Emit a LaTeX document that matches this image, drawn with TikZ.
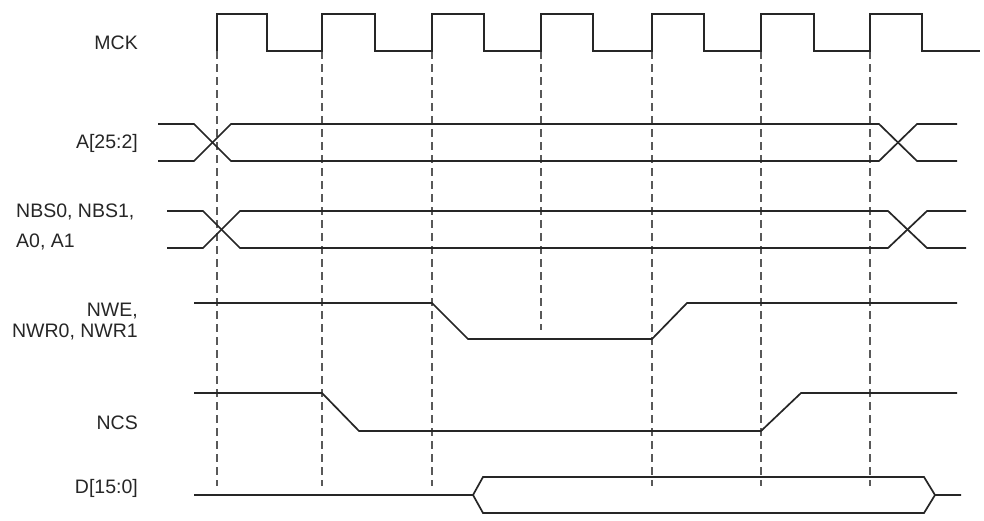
\documentclass[tikz,border=0pt]{standalone}
\usepackage{fontspec}
\setmainfont{Liberation Sans}
\usetikzlibrary{positioning}
\tikzset{
    %Define style for signal names
    signame/.style={
           font=\fontsize{19.5}{21}\selectfont,
           text=black!85,
           inner sep=0pt},
    % Define style for waveforms
    wave/.style={
           draw=black!85,
           line width=1.7pt,
           line join=miter},
    % Define style for clock edge markers
    edgeline/.style={
           draw=black!65,
           line width=1.1pt,
           dash pattern=on 8pt off 5pt}
}

\begin{document}
\begin{tikzpicture}[x=1pt,y=-1pt]
  \useasboundingbox (0,0) rectangle (984,520);

  % signal names
  \node[signame, anchor=east] (mck) at (138,43) {MCK};
  \node[signame, anchor=east] (addr) at (138,143) {A[25:2]};
  \node[signame, anchor=west, align=left] (nbs) at (16,227) {NBS0, NBS1,\\[9pt]A0, A1};
  \node[signame, anchor=east, align=right] (nwe) at (138,322) {NWE,\\NWR0, NWR1};
  \node[signame, anchor=east] (ncs) at (138,423) {NCS};
  \node[signame, anchor=east] (data) at (138,488) {D[15:0]};

  % clock edge markers
  \foreach \x in {217,322,432,652,761,870}
    \draw[edgeline] (\x,51) -- (\x,486);
  \draw[edgeline] (541,51) -- (541,330);

  % MCK
  \draw[wave] (217,51)
    foreach \r/\f/\n in {217/267/322, 322/375/432, 432/484/541, 541/593/652,
                         652/704/761, 761/814/870, 870/922/980}
      { -- (\r,14) -- (\f,14) -- (\f,51) -- (\n,51) };

  % A[25:2]
  \draw[wave] (158,124) -- (194,124) -- (231,161) -- (879,161) -- (917,124) -- (957,124);
  \draw[wave] (158,161) -- (194,161) -- (231,124) -- (879,124) -- (917,161) -- (957,161);

  % NBS0, NBS1, A0, A1
  \draw[wave] (167,211) -- (203,211) -- (240,248) -- (888,248) -- (927,211) -- (966,211);
  \draw[wave] (167,248) -- (203,248) -- (240,211) -- (888,211) -- (927,248) -- (966,248);

  % NWE, NWR0, NWR1
  \draw[wave] (194,303) -- (432,303) -- (468,339) -- (652,339) -- (687,303) -- (957,303);

  % NCS
  \draw[wave] (194,393) -- (322,393) -- (359,431) -- (761,431) -- (801,393) -- (957,393);

  % D[15:0]
  \draw[wave] (194,495) -- (473,495) -- (483,477) -- (924,477) -- (935,495) -- (961,495);
  \draw[wave] (473,495) -- (483,513) -- (924,513) -- (935,495);
\end{tikzpicture}
\end{document}
